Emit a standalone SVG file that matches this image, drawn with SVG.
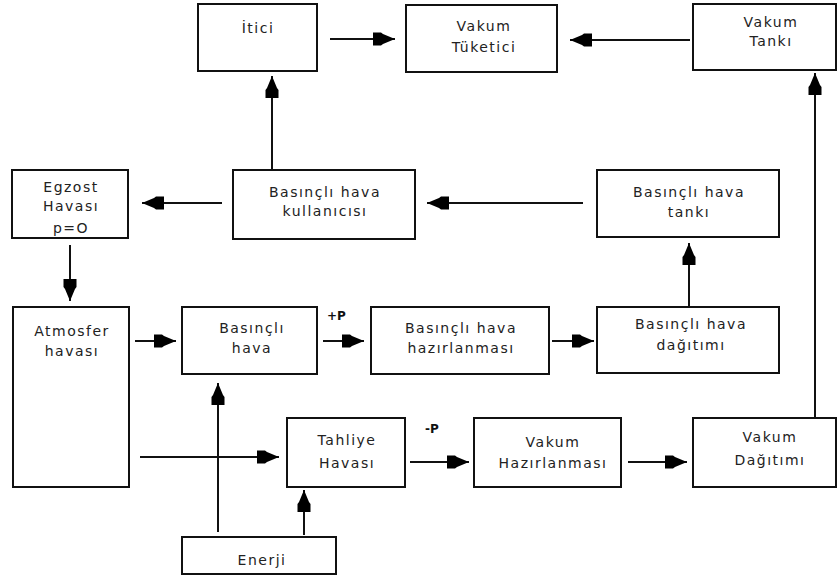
<svg xmlns="http://www.w3.org/2000/svg" width="837" height="579" viewBox="0 0 837 579">
<style>
.box{fill:#fff;stroke:#111;stroke-width:2}
.t{font-family:"DejaVu Sans",Verdana,sans-serif;font-size:14px;fill:#222;text-anchor:middle;letter-spacing:1.5px}
.c{stroke:#111;stroke-width:2;fill:none;marker-end:url(#ah)}
.lbl{font-family:"DejaVu Sans",sans-serif;font-size:12px;font-weight:bold;fill:#111}
</style>
<defs>
<marker id="ah" markerUnits="userSpaceOnUse" markerWidth="26" markerHeight="16" viewBox="-24 -8 26 16" refX="0" refY="0" orient="auto">
<path d="M0,0 L-12,-5 L-14,-6.5 L-22,-6.5 L-22,6.5 L-14,6.5 L-12,5 z" fill="#000"/>
</marker>
</defs>
<rect width="837" height="579" fill="#fff"/>
<g id="itici"><rect class="box" x="198" y="4" width="119" height="67"/><text class="t" x="258" y="33">İtici</text></g>
<g id="vakum-tuketici"><rect class="box" x="406" y="5" width="151" height="67"/><text class="t" x="484" y="31">Vakum</text><text class="t" x="484" y="52">Tüketici</text></g>
<g id="vakum-tanki"><rect class="box" x="693" y="4" width="143" height="66"/><text class="t" x="771" y="27">Vakum</text><text class="t" x="771" y="46">Tankı</text></g>
<g id="egzost"><rect class="box" x="12" y="170" width="116" height="68"/><text class="t" x="71" y="192">Egzost</text><text class="t" x="71" y="211">Havası</text><text class="t" x="71" y="233">p=O</text></g>
<g id="kullanici"><rect class="box" x="233" y="170" width="182" height="69"/><text class="t" x="325" y="197">Basınçlı hava</text><text class="t" x="325" y="216">kullanıcısı</text></g>
<g id="bh-tanki"><rect class="box" x="597" y="170" width="182" height="67"/><text class="t" x="689" y="197">Basınçlı hava</text><text class="t" x="689" y="217">tankı</text></g>
<g id="atmosfer"><rect class="box" x="13" y="307" width="116" height="180"/><text class="t" x="72" y="336">Atmosfer</text><text class="t" x="72" y="356">havası</text></g>
<g id="basincli-hava"><rect class="box" x="182" y="307" width="135" height="67"/><text class="t" x="252" y="333">Basınçlı</text><text class="t" x="252" y="353">hava</text></g>
<g id="bh-hazirlanmasi"><rect class="box" x="371" y="307" width="178" height="67"/><text class="t" x="461" y="333">Basınçlı hava</text><text class="t" x="461" y="353">hazırlanması</text></g>
<g id="bh-dagitimi"><rect class="box" x="597" y="307" width="182" height="66"/><text class="t" x="691" y="329">Basınçlı hava</text><text class="t" x="691" y="350">dağıtımı</text></g>
<g id="tahliye"><rect class="box" x="287" y="418" width="118" height="69"/><text class="t" x="347" y="445">Tahliye</text><text class="t" x="347" y="468">Havası</text></g>
<g id="vakum-hazirlanmasi"><rect class="box" x="474" y="418" width="147" height="69"/><text class="t" x="553" y="447">Vakum</text><text class="t" x="553" y="468">Hazırlanması</text></g>
<g id="vakum-dagitimi"><rect class="box" x="693" y="418" width="143" height="69"/><text class="t" x="770" y="442">Vakum</text><text class="t" x="770" y="465">Dağıtımı</text></g>
<g id="enerji"><rect class="box" x="182" y="537" width="154" height="37"/><text class="t" x="262" y="565">Enerji</text></g>
<g id="connectors">
<line class="c" x1="330" y1="39" x2="395" y2="39"/>
<line class="c" x1="690" y1="40" x2="570" y2="40"/>
<line class="c" x1="272" y1="170" x2="272" y2="76"/>
<line class="c" x1="815" y1="418" x2="815" y2="73"/>
<line class="c" x1="222" y1="203" x2="142" y2="203"/>
<line class="c" x1="583" y1="203" x2="427" y2="203"/>
<line class="c" x1="689" y1="307" x2="689" y2="243"/>
<line class="c" x1="70" y1="245" x2="70" y2="301"/>
<line class="c" x1="135" y1="341" x2="176" y2="341"/>
<line class="c" x1="323" y1="341" x2="364" y2="341"/>
<line class="c" x1="552" y1="341" x2="594" y2="341"/>
<line class="c" x1="218" y1="532" x2="218" y2="383"/>
<line class="c" x1="140" y1="457" x2="279" y2="457"/>
<line class="c" x1="304" y1="535" x2="304" y2="490"/>
<line class="c" x1="410" y1="462" x2="469" y2="462"/>
<line class="c" x1="628" y1="462" x2="687" y2="462"/>
</g>
<text class="lbl" x="327" y="320">+P</text>
<text class="lbl" x="425" y="433">-P</text>
</svg>
